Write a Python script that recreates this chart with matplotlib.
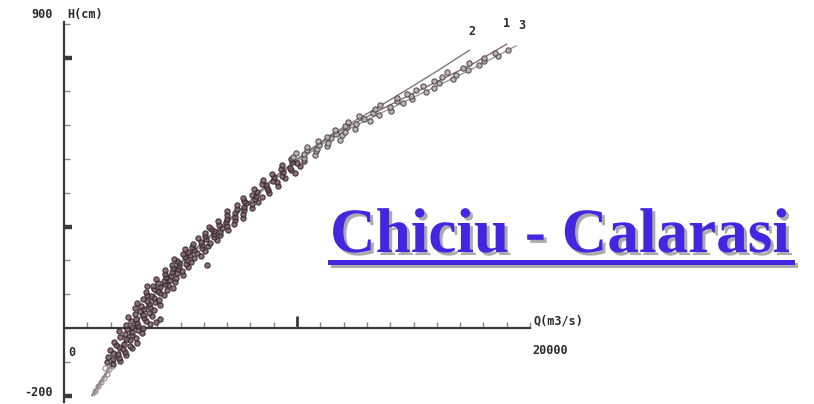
import numpy as np
import matplotlib
matplotlib.use("Agg")
import matplotlib.pyplot as plt
import matplotlib.patheffects as pe
from matplotlib.patches import Rectangle

# Gauged stage-discharge pairs, main cloud: discharge Q (m3/s), stage H (cm)
q_obs = [
    2115, 1838, 2423, 2088, 2362, 1888, 2673, 2299, 2124, 2600, 1964, 2520,
    2906, 2352, 2827, 2252, 2590, 3145, 2161, 2846, 2642, 3087, 2383, 2898,
    2634, 3339, 2915, 2381, 3188, 2724, 3409, 2916, 3181, 2667, 3673, 3120,
    2885, 3502, 3097, 3443, 2728, 3786, 3390, 3027, 3653, 3248, 3844, 3420,
    3066, 3683, 3297, 4124, 3630, 3136, 3892, 3547, 4093, 3390, 3866, 3731,
    4297, 3564, 3950, 4120, 3560,
    4127, 3533, 4020, 4406, 3883, 4660, 4126, 3823, 4459, 4336, 4053, 4769,
    4276, 4562, 3929, 4796, 4372, 4579, 5095, 4322, 4849, 4645, 5082, 4348,
    4905, 4662, 5338, 4915, 4621, 5248, 4955, 5471, 4868,
    5282, 4731, 5560, 5178, 5887, 5395, 5124, 5713, 5341, 6050, 5598, 5187,
    5906, 5514, 6193, 5921, 5550, 6249, 5887, 6586, 6084, 5753, 6422, 6050,
    6709, 6427, 6066, 6715, 6433, 7042, 6330, 6779, 6238, 6140,
    7003, 6648, 7287, 6962, 6601, 7346, 7005, 7700, 7329, 7014, 7683, 7358,
    7004, 7712, 7418, 8087, 7742, 7427, 8076, 7801, 8326, 7735, 8190, 7685,
    8484, 8220, 8069, 8784,
    8271, 8768, 8156, 8724, 9191, 8679, 8506, 9154, 8982, 8559, 9477, 8994,
    9372, 8930, 9897, 9395, 9732, 9300, 9708, 10115, 9353, 10000, 9788, 10306,
    9743,
]
h_obs = [
    -106, -101, -97, -93, -88, -85, -81, -78, -74, -71, -66, -63,
    -60, -57, -53, -49, -47, -43, -40, -36, -33, -29, -26, -22,
    -19, -15, -12, -9, -6, -3, 1, 3, 7, 10, 13, 16,
    20, 22, 26, 29, 33, 35, 39, 42, 45, 49, 52, 55,
    58, 61, 65, 68, 71, 74, 77, 81, 84, 87, 90, 94,
    97, 99, 18, 26, 125,
    103, 106, 109, 112, 115, 118, 121, 124, 127, 130, 133, 136,
    139, 142, 145, 148, 151, 154, 157, 160, 163, 166, 169, 172,
    175, 178, 181, 184, 187, 190, 193, 196, 199,
    202, 205, 208, 211, 214, 217, 220, 223, 226, 229, 232, 235,
    238, 241, 244, 247, 250, 253, 256, 259, 262, 265, 268, 271,
    274, 277, 280, 283, 286, 289, 292, 295, 298, 186,
    302, 306, 309, 313, 316, 320, 323, 327, 330, 334, 337, 341,
    345, 348, 352, 355, 359, 363, 366, 370, 374, 377, 381, 385,
    388, 392, 395, 399,
    403, 407, 411, 415, 419, 423, 427, 431, 435, 439, 443, 447,
    451, 455, 459, 463, 467, 471, 475, 479, 483, 487, 491, 495,
    499,
]
# high-stage gaugings (sparser, lighter symbols)
q_high = [
    10308, 9848, 10769, 10299, 9969, 10820, 10450, 10861, 10431, 11301, 10952,
    11345, 10915, 11828, 11459, 11282, 11952, 11655, 12048, 11611, 12471, 12164,
    12055,
    12536, 12207, 13149, 12870, 12641, 13534, 13255, 14026, 13368, 13989, 13560,
    14553, 14274, 14945, 14287, 14908, 14729, 15522,
    15098, 15875, 15402, 16108, 15885, 16692, 16219, 16825, 16432, 17359, 17115,
    17822, 17378, 18035, 18021, 18627, 18513, 19049,
]
h_high = [
    503, 507, 511, 515, 519, 523, 527, 531, 535, 539, 543,
    548, 552, 557, 561, 566, 570, 575, 580, 585, 589, 594,
    598,
    603, 609, 614, 620, 626, 631, 637, 643, 648, 654, 660,
    665, 671, 677, 682, 688, 694, 699,
    705, 711, 717, 724, 730, 737, 743, 750, 757, 763, 770,
    777, 784, 791, 799, 806, 814, 822,
]
# lowest-stage gaugings
q_low = [1350, 1480, 1600, 1720, 1850, 1950, 2050, 1780]
h_low = [-185, -172, -160, -148, -135, -122, -113, -118]

# Fitted rating curves 1, 2 and 3
q_curve1 = [1200, 2000, 2960, 3880, 5100, 6000, 7000, 8000, 9000, 10000,
            11500, 13000, 14500, 16000, 17500, 19000]
h_curve1 = [-200, -110, 0, 100, 200, 257, 316, 377, 444, 498,
            570, 625, 678, 729, 780, 840]
q_curve2 = [1200, 2000, 2960, 3880, 5100, 6000, 7000, 8000, 9000, 10000,
            11500, 13000, 14500, 16000, 17400]
h_curve2 = [-200, -110, 0, 100, 200, 257, 316, 377, 444, 500,
            574, 634, 696, 760, 822]
q_curve3 = [1300, 2000, 2960, 3880, 5100, 6000, 7000, 8000, 9000, 10000,
            11500, 13000, 14500, 16000, 17500, 19400]
h_curve3 = [-200, -118, -5, 95, 195, 252, 311, 372, 438, 492,
            564, 616, 666, 716, 766, 835]
curve_names = ["1", "2", "3"]

x_minor_ticks = list(range(1000, 20001, 1000))
x_major_ticks = [10000]
y_minor_ticks = list(range(-200, 901, 100))
y_major_ticks = [-200, 300, 800]

W, H = 814, 404
fig = plt.figure(figsize=(W / 100, H / 100), dpi=100)
ax = fig.add_axes([0, 0, 1, 1])

q_per_px = 20000 / 466.0
h_per_px = 800 / 270.3
ax.set_xlim(-64 * q_per_px, (W - 64) * q_per_px)
ax.set_ylim(-(H - 328) * h_per_px, 328 * h_per_px)

axis_col = "#3a3a3a"
for s in ("top", "right"):
    ax.spines[s].set_visible(False)
ax.spines["left"].set_position(("data", 0))
ax.spines["bottom"].set_position(("data", 0))
ax.spines["left"].set_bounds(-219, 905)
ax.spines["bottom"].set_bounds(0, 20000)
for s in ("left", "bottom"):
    ax.spines[s].set_color(axis_col)
    ax.spines[s].set_linewidth(1.6)

ax.set_xticks(x_major_ticks)
ax.set_xticks([t for t in x_minor_ticks if t not in x_major_ticks], minor=True)
ax.set_yticks(y_major_ticks)
ax.set_yticks([t for t in y_minor_ticks if t not in y_major_ticks], minor=True)
ax.tick_params(axis="x", which="major", direction="in", length=8.5, width=2,
               color=axis_col, labelbottom=False)
ax.tick_params(axis="x", which="minor", direction="in", length=4.5, width=1,
               color="#888888")
ax.tick_params(axis="y", which="major", direction="in", length=5.5, width=3.2,
               color=axis_col, labelleft=False)
ax.tick_params(axis="y", which="minor", direction="in", length=4.5, width=1,
               color="#888888")

# rating curves
ax.plot(q_curve1, h_curve1, color="#8c6a6a", lw=1.0, zorder=2)
ax.plot(q_curve2, h_curve2, color="#7a7a7a", lw=1.0, zorder=2)
ax.plot(q_curve3, h_curve3, color="#9a9a9a", lw=1.0, zorder=2)

# gaugings
ax.plot(q_low, h_low, linestyle="none", marker="o", markersize=3.6,
        markerfacecolor="none", markeredgecolor="#9a8a92",
        markeredgewidth=0.8, zorder=3)
ax.plot(q_obs, h_obs, linestyle="none", marker="o", markersize=3.8,
        markerfacecolor="#7a5862", markeredgecolor="#2a2226",
        markeredgewidth=0.8, alpha=0.85, zorder=3)
ax.plot(q_high, h_high, linestyle="none", marker="o", markersize=3.8,
        markerfacecolor="#b8adb2", markeredgecolor="#4a4448",
        markeredgewidth=0.8, alpha=0.9, zorder=3)

mono = dict(family="DejaVu Sans Mono", fontsize=8.5, fontweight="bold",
            color="#2a2a2a")
ends = [(q_curve1[-1], h_curve1[-1]), (q_curve2[-1], h_curve2[-1]),
        (q_curve3[-1], h_curve3[-1])]
offsets = [(0, 14), (3, 12), (6, 14)]
for name, (qe, he), off in zip(curve_names, ends, offsets):
    ax.annotate(name, xy=(qe, he), xytext=off, textcoords="offset pixels",
                ha="center", va="bottom", **mono)

ax.annotate("900", xy=(0, 900), xytext=(-11, 9), textcoords="offset pixels",
            ha="right", va="center", **mono)
ax.annotate("H(cm)", xy=(0, 900), xytext=(3, 9), textcoords="offset pixels",
            ha="left", va="center", **mono)
ax.annotate("-200", xy=(0, -200), xytext=(-11, 3), textcoords="offset pixels",
            ha="right", va="center", **mono)
ax.annotate("0", xy=(0, 0), xytext=(4, -24), textcoords="offset pixels",
            ha="left", va="center", **mono)
ax.annotate("20000", xy=(20000, 0), xytext=(2, -23), textcoords="offset pixels",
            ha="left", va="center", **mono)
ax.annotate("Q(m3/s)", xy=(20000, 0), xytext=(3, 7), textcoords="offset pixels",
            ha="left", va="center", **mono)

# station title with drop shadow and underline
title_col = "#4526e0"
shadow_col = "#ababab"
fig.text(330 / W, (H - 252) / H, "Chiciu - Calarasi", family="Liberation Serif",
         fontsize=45.5, fontweight="bold", color=title_col, ha="left",
         va="baseline",
         path_effects=[pe.withSimplePatchShadow(offset=(2.2, -2.2),
                                                shadow_rgbFace=shadow_col,
                                                alpha=1.0)])
fig.add_artist(Rectangle((331 / W, (H - 268) / H), 467 / W, 5.5 / H,
                         transform=fig.transFigure, color=shadow_col, lw=0))
fig.add_artist(Rectangle((328 / W, (H - 265) / H), 467 / W, 5.5 / H,
                         transform=fig.transFigure, color=title_col, lw=0))

fig.savefig("out.png", dpi=100, facecolor="white")
